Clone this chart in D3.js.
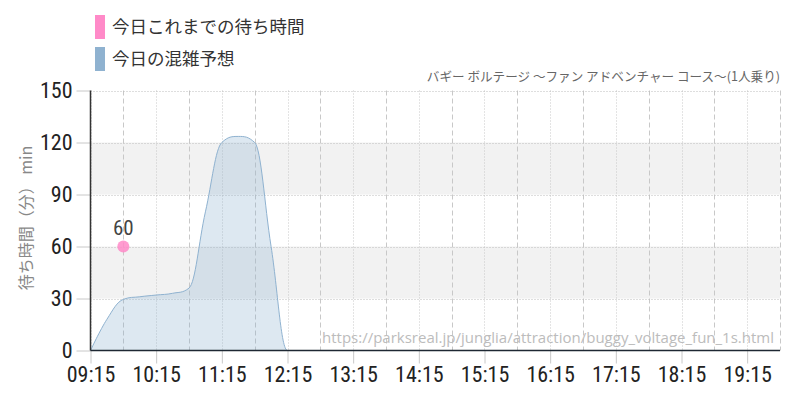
<!DOCTYPE html>
<html><head><meta charset="utf-8">
<script src="https://cdn.jsdelivr.net/npm/d3@7"></script>
<style>body{margin:0;background:#fff}svg{display:block}</style>
</head><body>
<svg id="c" width="800" height="400"></svg>
<script>
// ---- data ----
const forecastTimes = ["09:15","09:30","09:45","10:00","10:15","10:30","10:45","11:00","11:15","11:30","11:45","12:00","12:15","12:30","12:45","13:00","13:15","13:30","13:45","14:00","14:15","14:30","14:45","15:00","15:15","15:30","15:45","16:00","16:15","16:30","16:45","17:00","17:15","17:30","17:45","18:00","18:15","18:30","18:45","19:00","19:15","19:30","19:45"];
const forecastValues = [0,18,29.5,31,32,33,36,80,120,123.5,120,60,0,0,0,0,0,0,0,0,0,0,0,0,0,0,0,0,0,0,0,0,0,0,0,0,0,0,0,0,0,0,0];
const actualTimes = ["09:45"];
const actualValues = [60];
const xTickLabels = ["09:15","10:15","11:15","12:15","13:15","14:15","15:15","16:15","17:15","18:15","19:15"];
const yTicks = [0,30,60,90,120,150];
const bandRanges = [[30,60],[90,120]];
const legendLabels = ["今日これまでの待ち時間","今日の混雑予想"];
const legendColors = ["#ff8ac8","#8fb2d0"];
const titleText = "バギー ボルテージ ～ファン アドベンチャー コース～(1人乗り)";
const yTitle = "待ち時間（分） min";
const urlText = "https://parksreal.jp/junglia/attraction/buggy_voltage_fun_1s.html";

// ---- setup ----
const svg = d3.select("#c");
const parse = d3.timeParse("%H:%M");
const L = 90.5, R = 780, T = 90.5, B = 350.5;
const x = d3.scaleTime().domain([parse("09:15"), parse("19:45")]).range([L, R]);
const y = d3.scaleLinear().domain([0,150]).range([B, T]);
const numFont = "'Liberation Sans Narrow','Roboto Condensed','Arial Narrow',sans-serif";
const jpFont = "'Noto Sans CJK JP','Noto Sans',sans-serif";

// bands
svg.append("g").selectAll("rect").data(bandRanges).join("rect")
  .attr("x", L).attr("width", R - L)
  .attr("y", d => y(d[1])).attr("height", d => y(d[0]) - y(d[1]))
  .attr("fill", "#f2f2f2");

// vertical grid (every 30 minutes)
const gridTimes = d3.timeMinute.range(parse("09:15"), d3.timeMinute.offset(parse("19:45"),1), 30);
svg.append("g").selectAll("line").data(gridTimes).join("line")
  .attr("x1", d => Math.round(x(d)) + 0.5).attr("x2", d => Math.round(x(d)) + 0.5)
  .attr("y1", T).attr("y2", B)
  .attr("stroke", "#c8c8c8").attr("stroke-width", 1)
  .attr("stroke-dasharray", d => d.getMinutes() === 15 ? "1,2" : "5,3");

// horizontal grid
svg.append("g").selectAll("line").data(yTicks.filter(v => v > 0)).join("line")
  .attr("x1", L).attr("x2", R)
  .attr("y1", d => Math.round(y(d)) + 0.5).attr("y2", d => Math.round(y(d)) + 0.5)
  .attr("stroke", "#bdbdbd").attr("stroke-dasharray", "1,2");

// Highcharts-style spline curve
class SplineCurve {
  constructor(ctx){ this._context = ctx; }
  areaStart(){ this._line = 0; }
  areaEnd(){ this._line = NaN; }
  lineStart(){ this._pts = []; }
  point(px, py){ this._pts.push({x: +px, y: +py}); }
  lineEnd(){
    const p = this._pts, c = this._context, n = p.length, s = 1.5, den = s + 1;
    if (!n) return;
    if (this._line) c.lineTo(p[0].x, p[0].y); else c.moveTo(p[0].x, p[0].y);
    for (let i = 1; i < n; i++) {
      const pt = p[i], last = p[i-1], next = p[i+1];
      let lcx = pt.x, lcy = pt.y;
      if (next) {
        lcx = (s*pt.x + last.x)/den; lcy = (s*pt.y + last.y)/den;
        let rcx = (s*pt.x + next.x)/den, rcy = (s*pt.y + next.y)/den;
        if (rcx !== lcx) {
          const corr = ((rcy - lcy)*(rcx - pt.x))/(rcx - lcx) + pt.y - rcy;
          lcy += corr; rcy += corr;
          if (lcy > last.y && lcy > pt.y) { lcy = Math.max(last.y, pt.y); rcy = 2*pt.y - lcy; }
          else if (lcy < last.y && lcy < pt.y) { lcy = Math.min(last.y, pt.y); rcy = 2*pt.y - lcy; }
          if (rcy > next.y && rcy > pt.y) { rcy = Math.max(next.y, pt.y); lcy = 2*pt.y - rcy; }
          else if (rcy < next.y && rcy < pt.y) { rcy = Math.min(next.y, pt.y); lcy = 2*pt.y - rcy; }
        }
        pt.rcx = rcx; pt.rcy = rcy;
      }
      c.bezierCurveTo(last.rcx ?? last.x, last.rcy ?? last.y, lcx, lcy, pt.x, pt.y);
    }
    if (this._line || (this._line !== 0 && n === 1)) c.closePath();
    this._line = 1 - this._line;
  }
}
const spline = ctx => new SplineCurve(ctx);

const fdata = forecastTimes.map((t, i) => ({t: parse(t), v: forecastValues[i]}));
const lineGen = d3.line().x(d => x(d.t)).y(d => y(d.v)).curve(spline);
const topPath = lineGen(fdata);
svg.append("path")
  .attr("d", topPath + `L${x(fdata[fdata.length-1].t)},${y(0)}L${x(fdata[0].t)},${y(0)}Z`)
  .attr("fill", "rgba(143,178,208,0.3)").attr("stroke", "none");
svg.append("path").attr("d", topPath).attr("fill", "none")
  .attr("stroke", "#8fb2d0").attr("stroke-width", 1);

// url watermark
svg.append("text").attr("x", 774).attr("y", 343).attr("text-anchor", "end")
  .attr("font-family", "'Open Sans','Noto Sans',sans-serif").attr("font-size", 15)
  .attr("fill", "#bcbcbc").text(urlText);

// axes
const xAxis = d3.axisBottom(x)
  .tickValues(xTickLabels.map(parse))
  .tickFormat(d3.timeFormat("%H:%M")).tickSize(13).tickPadding(3);
const gx = svg.append("g").attr("transform", `translate(0,${B})`).call(xAxis);
gx.select(".domain").remove();
gx.selectAll(".tick line").attr("stroke", "#c8c8c8");
gx.selectAll(".tick text").attr("font-family", numFont).attr("font-size", 22).attr("fill", "#222");

const yAxis = d3.axisLeft(y).tickValues(yTicks).tickSize(14).tickPadding(4);
const gy = svg.append("g").attr("transform", `translate(${L},0)`).call(yAxis);
gy.select(".domain").remove();
gy.selectAll(".tick line").attr("stroke", "#c8c8c8");
gy.selectAll(".tick text").attr("font-family", numFont).attr("font-size", 22).attr("fill", "#222");

svg.append("line").attr("x1", L).attr("x2", L).attr("y1", T).attr("y2", B)
  .attr("stroke", "#333").attr("stroke-width", 1.5);
svg.append("line").attr("x1", L).attr("x2", R).attr("y1", B).attr("y2", B)
  .attr("stroke", "#1e2833").attr("stroke-width", 1.5);

// actual points
const adata = actualTimes.map((t, i) => ({t: parse(t), v: actualValues[i]}));
svg.append("g").selectAll("circle").data(adata).join("circle")
  .attr("cx", d => x(d.t)).attr("cy", d => y(d.v)).attr("r", 6)
  .attr("fill", "#ff8ac8").attr("fill-opacity", 0.85);
svg.append("g").selectAll("text").data(adata).join("text")
  .attr("x", d => x(d.t)).attr("y", d => y(d.v) - 12).attr("text-anchor", "middle")
  .attr("font-family", numFont).attr("font-size", 21).attr("fill", "#444")
  .text(d => d.v);

// y title
svg.append("text").attr("transform", `translate(32,218) rotate(-90)`)
  .attr("text-anchor", "middle").attr("font-family", jpFont).attr("font-size", 16)
  .attr("fill", "#888").text(yTitle);

// chart title
svg.append("text").attr("x", 780).attr("y", 81).attr("text-anchor", "end")
  .attr("font-family", jpFont).attr("font-size", 12.6).attr("fill", "#666").text(titleText);

// legend
const lg = svg.append("g").selectAll("g").data(legendLabels).join("g")
  .attr("transform", (d, i) => `translate(95,${15 + i*32})`);
lg.append("rect").attr("width", 10).attr("height", 24).attr("fill", (d, i) => legendColors[i]);
lg.append("text").attr("x", 17).attr("y", 12).attr("dy", "0.35em")
  .attr("font-family", jpFont).attr("font-size", 17.5).attr("fill", "#333").text(d => d);
</script>
</body></html>
